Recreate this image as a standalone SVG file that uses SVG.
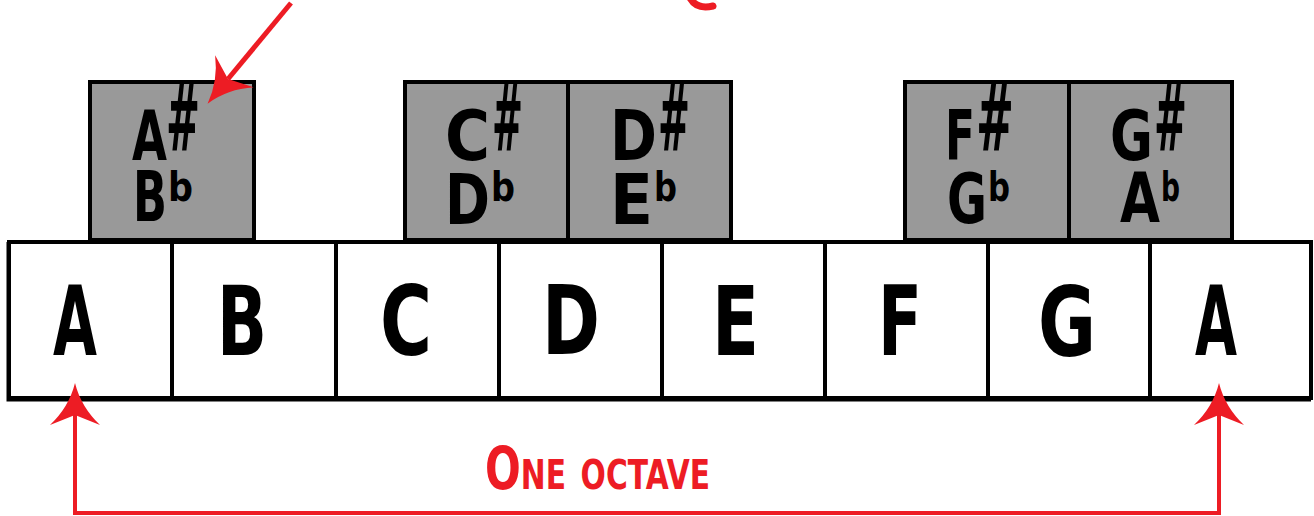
<svg xmlns="http://www.w3.org/2000/svg" width="1314" height="516" viewBox="0 0 1314 516">
<style>
.wkey{fill:#ffffff;stroke:#000;stroke-width:4}
.bkey{fill:#999999;stroke:#000;stroke-width:4}
text{font-family:"DejaVu Sans","Liberation Sans",sans-serif;font-weight:bold;fill:#000}
.wl{font-size:96px}
.bt{font-size:70px}
.sh{font-size:92px}
.fl{font-size:40px}
.red{stroke:#ED1C24;fill:none}
.lbl{font-size:58px;font-variant:small-caps;fill:#ED1C24}
</style>
<defs>
<marker id="ah" markerUnits="userSpaceOnUse" viewBox="-12 -27 46 54" refX="0" refY="0" markerWidth="46" markerHeight="54" orient="auto-start-reverse" overflow="visible">
<path d="M32,0 Q8,-6 -10,-25 L0,0 L-10,25 Q8,6 32,0 Z" fill="#ED1C24"/>
</marker>
</defs>
<g id="white-keys">
<g id="key-A1"><rect class="wkey" x="9" y="242" width="163" height="156"/><text class="wl" x="53" y="355" textLength="44" lengthAdjust="spacingAndGlyphs">A</text></g>
<g id="key-B"><rect class="wkey" x="172" y="242" width="164" height="156"/><text class="wl" x="217" y="355" textLength="50" lengthAdjust="spacingAndGlyphs">B</text></g>
<g id="key-C"><rect class="wkey" x="336" y="242" width="163" height="156"/><text class="wl" x="380" y="355" textLength="52" lengthAdjust="spacingAndGlyphs">C</text></g>
<g id="key-D"><rect class="wkey" x="499" y="242" width="163" height="156"/><text class="wl" x="542" y="354" textLength="58" lengthAdjust="spacingAndGlyphs">D</text></g>
<g id="key-E"><rect class="wkey" x="662" y="242" width="163" height="156"/><text class="wl" x="712" y="355" textLength="47" lengthAdjust="spacingAndGlyphs">E</text></g>
<g id="key-F"><rect class="wkey" x="825" y="242" width="163" height="156"/><text class="wl" x="878" y="355" textLength="44" lengthAdjust="spacingAndGlyphs">F</text></g>
<g id="key-G"><rect class="wkey" x="988" y="242" width="162" height="156"/><text class="wl" x="1038" y="356" textLength="58" lengthAdjust="spacingAndGlyphs">G</text></g>
<g id="key-A2"><rect class="wkey" x="1150" y="242" width="161" height="156"/><text class="wl" x="1195" y="355" textLength="42" lengthAdjust="spacingAndGlyphs">A</text></g>
<path d="M8,242 L8,400 L1311,400" fill="none" stroke="#000" stroke-width="3"/>
</g>
<g id="black-keys">
<g id="key-Asharp"><rect class="bkey" x="90" y="82" width="164" height="158"/>
<text class="bt"><tspan x="132" y="160" textLength="35" lengthAdjust="spacingAndGlyphs">A</tspan><tspan class="sh" x="166" y="150" textLength="34" lengthAdjust="spacingAndGlyphs">#</tspan><tspan x="133" y="221" textLength="34" lengthAdjust="spacingAndGlyphs">B</tspan><tspan class="fl" x="168" y="201" textLength="25" lengthAdjust="spacingAndGlyphs">b</tspan></text></g>
<g id="key-Csharp"><rect class="bkey" x="405" y="82" width="163" height="158"/>
<text class="bt"><tspan x="445" y="160" textLength="45" lengthAdjust="spacingAndGlyphs">C</tspan><tspan class="sh" x="492" y="150" textLength="31" lengthAdjust="spacingAndGlyphs">#</tspan><tspan x="445" y="224" textLength="45" lengthAdjust="spacingAndGlyphs">D</tspan><tspan class="fl" x="491" y="201" textLength="24" lengthAdjust="spacingAndGlyphs">b</tspan></text></g>
<g id="key-Dsharp"><rect class="bkey" x="568" y="82" width="163" height="158"/>
<text class="bt"><tspan x="610" y="160" textLength="47" lengthAdjust="spacingAndGlyphs">D</tspan><tspan class="sh" x="658" y="150" textLength="32" lengthAdjust="spacingAndGlyphs">#</tspan><tspan x="610" y="224" textLength="43" lengthAdjust="spacingAndGlyphs">E</tspan><tspan class="fl" x="654" y="201" textLength="23" lengthAdjust="spacingAndGlyphs">b</tspan></text></g>
<g id="key-Fsharp"><rect class="bkey" x="905" y="82" width="164" height="158"/>
<text class="bt"><tspan x="945" y="160" textLength="30" lengthAdjust="spacingAndGlyphs">F</tspan><tspan class="sh" x="976" y="150" textLength="38" lengthAdjust="spacingAndGlyphs">#</tspan><tspan x="947" y="223" textLength="40" lengthAdjust="spacingAndGlyphs">G</tspan><tspan class="fl" x="988" y="201" textLength="22" lengthAdjust="spacingAndGlyphs">b</tspan></text></g>
<g id="key-Gsharp"><rect class="bkey" x="1069" y="82" width="163" height="158"/>
<text class="bt"><tspan x="1110" y="160" textLength="43" lengthAdjust="spacingAndGlyphs">G</tspan><tspan class="sh" x="1154" y="150" textLength="33" lengthAdjust="spacingAndGlyphs">#</tspan><tspan x="1120" y="222" textLength="40" lengthAdjust="spacingAndGlyphs">A</tspan><tspan class="fl" x="1161" y="201" textLength="19" lengthAdjust="spacingAndGlyphs">b</tspan></text></g>
</g>
<g id="connectors">
<path class="red" d="M291,3 L228,79" stroke-width="5" marker-end="url(#ah)"/>
<path class="red" d="M75,415 L75,513 L1219,513 L1219,415" stroke-width="4" marker-start="url(#ah)" marker-end="url(#ah)"/>
<path class="red" d="M690,-2 Q697,10 713,6" stroke-width="7" stroke-linecap="round"/>
</g>
<g id="label">
<text class="lbl" x="485" y="489" textLength="225" lengthAdjust="spacingAndGlyphs">One octave</text>
</g>
</svg>
